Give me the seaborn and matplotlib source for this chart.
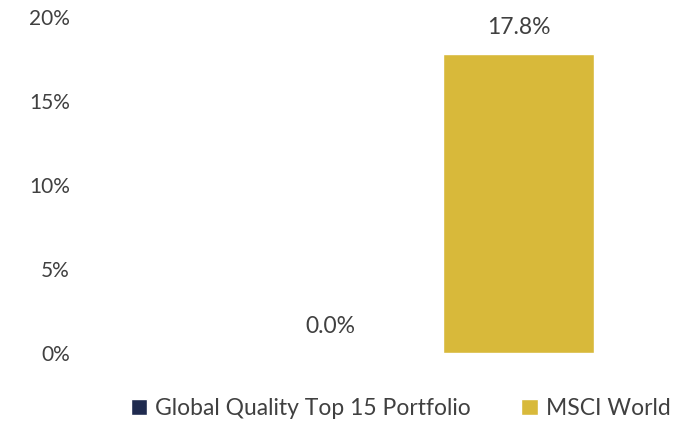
import matplotlib
matplotlib.use('Agg')
import matplotlib.pyplot as plt
import seaborn as sns
import pandas as pd

# chart data
series = ['Global Quality Top 15 Portfolio', 'MSCI World']
values = [0.0, 17.8]
colors = ['#1F2B4F', '#D8B93A']
yticks = [0, 5, 10, 15, 20]

sns.set_theme(style='white')
plt.rcParams['font.family'] = ['Lato', 'DejaVu Sans']
text_color = '#404040'

df = pd.DataFrame({'series': series, 'value': values})

fig = plt.figure(figsize=(6.91, 4.22), dpi=100)
ax = fig.add_axes([0.123, 0.1635, 0.877, 0.796])

sns.barplot(data=df, x='series', y='value', hue='series', palette=colors,
            width=0.8, saturation=1, ax=ax, legend=True)

for p, v in zip(ax.patches, values):
    x = p.get_x() + p.get_width() / 2
    ax.annotate(f'{v:.1f}%', (x, p.get_height()), xytext=(0, 19),
                textcoords='offset points', ha='center', va='center',
                fontsize=16.5, color=text_color)

ax.set_xlim(-1.30, 1.915)
ax.set_ylim(0, 20)
ax.set_yticks(yticks)
ax.set_yticklabels([f'{t}%' for t in yticks])
ax.set_xticks([])
ax.set_xlabel('')
ax.set_ylabel('')
ax.tick_params(axis='y', length=0, pad=11, labelsize=15, labelcolor=text_color)
for s in ax.spines.values():
    s.set_visible(False)

handles, labels = ax.get_legend_handles_labels()
ax.legend_.remove()
fig.legend(handles, labels, loc='center', bbox_to_anchor=(0.58, 0.031),
           ncol=2, frameon=False, fontsize=16.5, labelcolor=text_color,
           handlelength=0.7, handleheight=0.7, handletextpad=0.35,
           columnspacing=2.2)

fig.savefig('out.png', dpi=100)
